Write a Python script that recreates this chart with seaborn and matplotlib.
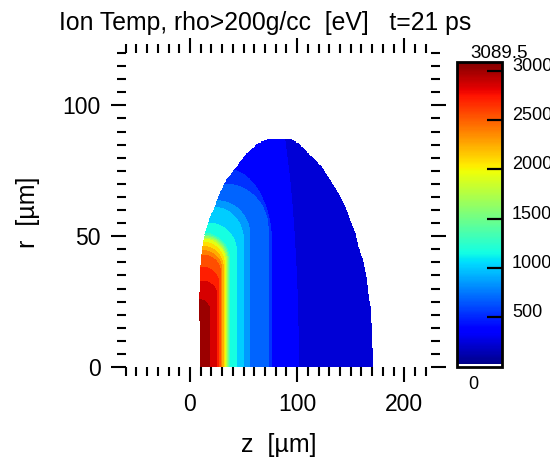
import numpy as np
import matplotlib
matplotlib.use("Agg")
import matplotlib.pyplot as plt
import matplotlib.transforms as mtransforms
from matplotlib.cm import ScalarMappable
from matplotlib.colors import Normalize, ListedColormap
from matplotlib.ticker import MultipleLocator
import seaborn as sns

# ---- data -------------------------------------------------------------
t_max = 3089.5                     # colour-scale maximum [eV]
cbar_ticks = [500, 1000, 1500, 2000, 2500, 3000]

# outline of the rho > 200 g/cc region (r in um, z limits in um)
edge_r = [0, 12.9, 23, 33.2, 40.8, 45.9, 51, 56.1, 61.2, 66.3, 71.4, 76.5, 81.6, 85.5, 87.4]
edge_z_left = [9.5, 9.3, 8.7, 9.3, 10.3, 11.8, 14, 18, 23.3, 28, 34.2, 43.6, 52.9, 63.8, 74.7]
edge_z_right = [170.5, 169.6, 168, 164.9, 161.2, 157, 154, 149.3, 144.7, 138.4, 130.7,
                122.9, 110.4, 101, 93.3]

# ion temperature along the axis (r ~ 0)
axis_z = [9, 14, 18.7, 24.9, 26.8, 28.6, 31.1, 33.6, 36.7, 43.5, 50, 56, 73, 76, 101, 171]
axis_T = [3085, 3000, 2935, 2780, 2630, 2472, 2163, 1854, 1236, 1081, 930, 772, 618, 463, 309, 160]

# isotherm shapes, labelled by where they cross the axis (z0):
# vertical up to r_v, then bending over to meet the cold edge at (z_e, r_e)
iso_z0 = [9, 18.7, 24.9, 28.6, 33, 43.5, 50, 56, 73, 101, 171]
iso_rv = [20, 21, 28, 36, 39, 44, 48, 50, 53, 0, 0]
iso_re = [25, 25.6, 33, 43, 48.5, 55, 61, 63.5, 70, 120, 200]
iso_ze = [8.8, 8.8, 9.3, 11, 13, 17, 23, 25, 32, 60, 120]

# ---- field on a grid ---------------------------------------------------
z = np.arange(-60, 225.01, 0.5)
r = np.arange(0, 120.01, 0.5)
Z, R = np.meshgrid(z, r)

z0 = np.arange(9, 171.01, 0.1)
rv = np.interp(z0, iso_z0, iso_rv)
re = np.interp(z0, iso_z0, iso_re)
ze = np.interp(z0, iso_z0, iso_ze)
tiny = np.arange(z0.size) * 1e-6
Z0 = np.empty_like(Z)
for i, ri in enumerate(r):
    u = np.clip((ri - rv) / (re - rv), 0, 1)
    zc = np.where(ri <= rv, z0, ze + (z0 - ze) * np.sqrt(1 - u ** 2))
    zc = np.where(ri <= re, zc, -1000.0)
    zc = np.maximum.accumulate(zc) + tiny
    Z0[i] = np.interp(z, zc, z0)
T = np.interp(Z0, axis_z, axis_T)
inside = (R <= max(edge_r)) & (Z >= np.interp(R, edge_r, edge_z_left)) & \
         (Z <= np.interp(R, edge_r, edge_z_right))
T = np.ma.masked_where(~inside, T)

# ---- style -------------------------------------------------------------
sns.set_theme(style="white")
plt.rcParams["font.family"] = ["Liberation Sans", "DejaVu Sans"]
plt.rcParams["text.color"] = "black"
plt.rcParams["xtick.color"] = "black"
plt.rcParams["ytick.color"] = "black"

jet = matplotlib.colormaps["jet"]
cols = jet(np.linspace(0, 1, 256))
cols[:2] = [1, 1, 1, 1]
cmap = ListedColormap(cols)

W, H = 550, 459
fig = plt.figure(figsize=(W / 100, H / 100), dpi=100)
ax = fig.add_axes([125.7 / W, 92 / H, 305.4 / W, 314 / H])
cax = fig.add_axes([456.7 / W, 92.3 / H, 45 / W, 305 / H])

levels = np.linspace(0, t_max, 21)
ax.contourf(Z, R, T, levels=levels, cmap=jet, vmin=0, vmax=t_max)

ax.set_xlim(-60, 225)
ax.set_ylim(0, 120)
ax.xaxis.set_major_locator(MultipleLocator(100))
ax.xaxis.set_minor_locator(MultipleLocator(10))
ax.yaxis.set_major_locator(MultipleLocator(50))
ax.yaxis.set_minor_locator(MultipleLocator(5))
for s in ax.spines.values():
    s.set_visible(False)
ax.tick_params(which="both", direction="out", top=True, right=True, bottom=True,
               left=True, labeltop=False, labelright=False, width=1.5)
ax.tick_params(which="major", length=11, labelsize=16.5, pad=7)
ax.tick_params(which="minor", length=6.5)
ax.tick_params(axis="x", which="major", pad=8)
ax.set_facecolor("white")

# colour bar
cb = fig.colorbar(ScalarMappable(norm=Normalize(0, t_max), cmap=cmap), cax=cax)
cb.outline.set_linewidth(2)
cb.outline.set_edgecolor("black")
cax.set_yticks([])
bt = mtransforms.blended_transform_factory(cax.transAxes, cax.transData)
for v in cbar_ticks:
    cax.plot([0.667, 1.04], [v, v], transform=bt, color="black", lw=1.6,
             clip_on=False, solid_capstyle="butt")
    cax.annotate(f"{v}", xy=(1.0, v), xycoords=bt, xytext=(7.5, 0),
                 textcoords="offset points", va="baseline", ha="left", fontsize=13)
fig.text(499 / W, 1 - 58.3 / H, f"{t_max}", ha="center", va="baseline", fontsize=13.5)
fig.text(473 / W, 1 - 389 / H, "0", ha="center", va="baseline", fontsize=13)

fig.text(265 / W, 1 - 30 / H, "Ion Temp, rho>200g/cc  [eV]   t=21 ps",
         ha="center", va="baseline", fontsize=17.8)
fig.text(279 / W, 1 - 452 / H, "z  [µm]", ha="center", va="baseline", fontsize=18)
fig.text(27.5 / W, 1 - 212 / H, "r  [µm]", ha="center", va="center",
         rotation=90, fontsize=18)

fig.savefig("out.png", dpi=100, facecolor="white")
